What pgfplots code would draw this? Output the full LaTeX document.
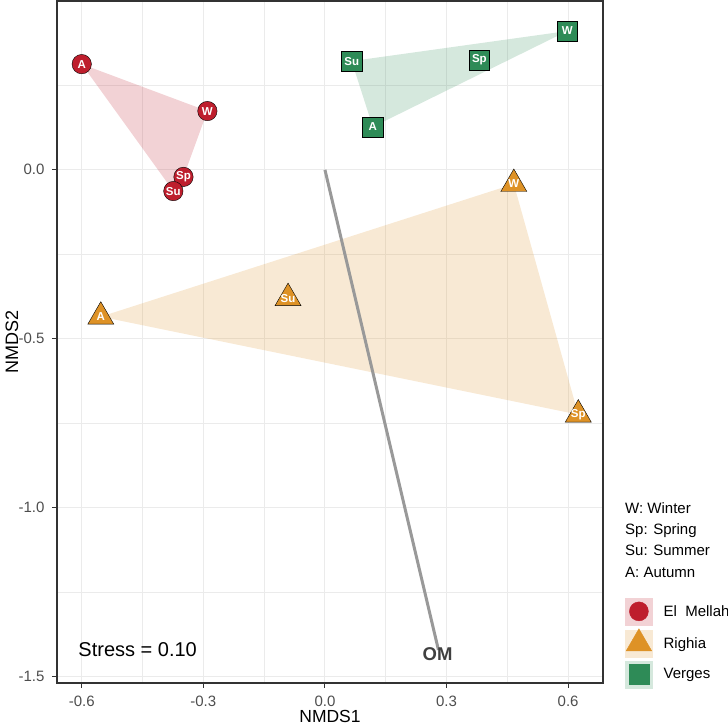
\documentclass[border=0pt]{standalone}
\usepackage{pgfplots}
\pgfplotsset{compat=1.18}
\usepackage{pgfplotstable}
\usepackage{fontspec}
\setmainfont{Liberation Sans}
\definecolor{cRed}{RGB}{190,30,45}
\definecolor{cOrange}{RGB}{222,146,38}
\definecolor{cGreen}{RGB}{46,139,87}
\definecolor{grey92}{RGB}{235,235,235}
\definecolor{grey20}{RGB}{51,51,51}
\definecolor{grey30}{RGB}{77,77,77}
\definecolor{grey60}{RGB}{153,153,153}

\pgfplotstableread{
x y lab
-0.600 0.313 A
-0.290 0.174 W
-0.349 -0.021 Sp
-0.374 -0.063 Su
}\mellah
\pgfplotstableread{
x y lab
-0.553 -0.435 A
-0.091 -0.380 Su
0.466 -0.042 W
0.625 -0.725 Sp
}\righia
\pgfplotstableread{
x y lab
0.066 0.322 Su
0.381 0.325 Sp
0.598 0.411 W
0.118 0.127 A
}\verges

\begin{document}
\begin{tikzpicture}
\useasboundingbox (0pt,0pt) rectangle (728pt,725pt);
\begin{axis}[
  at={(57pt,42pt)}, anchor=south west,
  width=546pt, height=682pt, scale only axis,
  xmin=-0.661, xmax=0.686, ymin=-1.52, ymax=0.50,
  xtick={-0.6,-0.3,0,0.3,0.6}, xticklabels={-0.6,-0.3,0.0,0.3,0.6},
  ytick={-1.5,-1,-0.5,0}, yticklabels={-1.5,-1.0,-0.5,0.0},
  minor xtick={-0.45,-0.15,0.15,0.45},
  minor ytick={-1.25,-0.75,-0.25,0.25},
  grid=both,
  major grid style={color=grey92, line width=1.1pt},
  minor grid style={color=grey92, line width=0.55pt},
  axis line style={grey20, line width=1.1pt},
  tick style={grey20, line width=1.1pt},
  major tick length=5pt, minor tick length=0pt,
  tick align=outside, xtick pos=bottom, ytick pos=left,
  ticklabel style={font=\fontsize{15}{15}\selectfont, text=grey30},
  xticklabel style={inner sep=0pt, yshift=-7.5pt},
  yticklabel style={xshift=-4pt},
  xlabel={NMDS1}, ylabel={NMDS2},
  every axis x label/.style={at={(axis description cs:0.5,-0.0572)}, anchor=base, inner sep=0pt, font=\fontsize{17.5}{17.5}\selectfont},
  every axis y label/.style={at={(axis description cs:-0.0824,0.5)}, anchor=center, inner sep=0pt, rotate=90, font=\fontsize{18}{18}\selectfont},
  legend style={at={(axis description cs:1.0403,0.1254)}, anchor=north west, draw=none, fill=none,
    inner sep=0pt, nodes={inner sep=0pt}, column sep=11pt, row sep=3.5pt,
    font=\fontsize{15}{15}\selectfont},
  legend cell align=left,
  mlab/.style={nodes near coords, point meta=explicit symbolic,
    every node near coord/.append style={anchor=center, text=white, font=\bfseries\fontsize{11.5}{11.5}\selectfont}},
]
% hulls
\addplot[fill=cRed, fill opacity=0.2, draw=none, forget plot] coordinates {(-0.600,0.313) (-0.290,0.174) (-0.349,-0.021) (-0.374,-0.063)} -- cycle;
\addplot[fill=cOrange, fill opacity=0.2, draw=none, forget plot] coordinates {(-0.553,-0.435) (0.466,-0.042) (0.625,-0.725)} -- cycle;
\addplot[fill=cGreen, fill opacity=0.2, draw=none, forget plot] coordinates {(0.066,0.322) (0.598,0.411) (0.118,0.127)} -- cycle;
% OM vector
\addplot[grey60, line width=3pt, forget plot] coordinates {(0,0) (0.280,-1.422)};
% points
\addplot[only marks, mark=*, mark size=9.7pt, mark options={draw=none, fill=cRed}, mlab, forget plot] table[meta=lab] {\mellah};
\addplot[only marks, mark=triangle*, mark size=15pt, mark options={draw=none, fill=cOrange}, mlab, forget plot] table[meta=lab] {\righia};
\addplot[only marks, mark=square*, mark size=10.2pt, mark options={draw=none, fill=cGreen}, mlab, forget plot] table[meta=lab] {\verges};
% legend
\addlegendimage{legend image code/.code={\fill[cRed!20] (0pt,-13.5pt) rectangle (27pt,13.5pt); \fill[cRed] (13.5pt,0pt) circle (9.5pt);}}
\addlegendentry{El\ \ Mellah}
\addlegendimage{legend image code/.code={\fill[cOrange!20] (0pt,-13.5pt) rectangle (27pt,13.5pt); \fill[cOrange] (13.5pt,14.7pt) -- (0.77pt,-7.35pt) -- (26.23pt,-7.35pt) -- cycle;}}
\addlegendentry{Righia}
\addlegendimage{legend image code/.code={\fill[cGreen!20] (0pt,-13.5pt) rectangle (27pt,13.5pt); \fill[cGreen] (3.5pt,-10pt) rectangle (23.5pt,10pt);}}
\addlegendentry{Verges}
\node[font=\fontsize{20}{20}\selectfont] at (axis cs:-0.462,-1.422) {Stress = 0.10};
\node[font=\bfseries\fontsize{18.5}{18.5}\selectfont, text={rgb,255:red,64;green,64;blue,64}] at (axis cs:0.278,-1.434) {OM};
\end{axis}
\begin{scope}[every node/.style={anchor=base west, font=\fontsize{15}{15}\selectfont, inner sep=0pt}]
\node at (625pt,211.5pt) {W: Winter};
\node at (625pt,190.5pt) {Sp: Spring};
\node at (625pt,169.5pt) {Su: Summer};
\node at (625pt,147.5pt) {A: Autumn};
\end{scope}
\end{tikzpicture}
\end{document}
